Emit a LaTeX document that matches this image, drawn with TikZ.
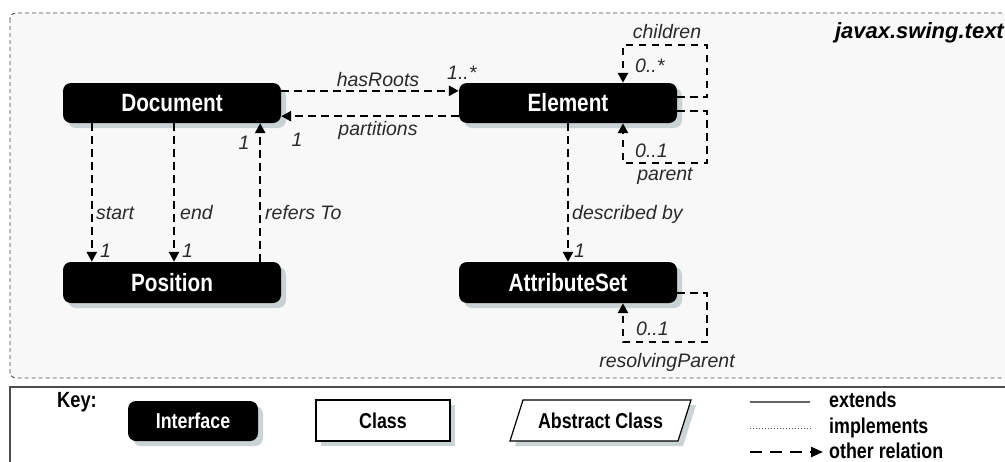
\documentclass[tikz,border=0pt]{standalone}
\usepackage{fontspec}
\setmainfont{Liberation Sans}
\newfontfamily\condfont[FakeStretch=0.83, BoldFont={Liberation Sans Bold}]{Liberation Sans}
\usetikzlibrary{arrows.meta,shadows}
\definecolor{bgbox}{HTML}{F8F8F8}
\definecolor{shad}{HTML}{B4C2C2}
\definecolor{labc}{HTML}{2A2A2A}
\tikzset{
 iface/.style={rounded corners=8pt, fill=black, text=white, font=\condfont\bfseries\fontsize{25}{25}\selectfont,
   minimum width=218pt, minimum height=40pt, inner sep=0pt,
   drop shadow={shadow xshift=5pt, shadow yshift=-5pt, fill=shad, opacity=0.7}},
 rel/.style={line width=2.5pt, dash pattern=on 7.5pt off 5.5pt, -{Triangle[length=10pt,width=10pt]}},
 lab/.style={font=\fontsize{19.5}{20}\selectfont\itshape, text=labc, inner sep=0pt},
 keyt/.style={font=\condfont\bfseries\fontsize{21.5}{22}\selectfont, inner sep=0pt},
}
\begin{document}
\begin{tikzpicture}[x=1pt,y=-1pt]
\useasboundingbox (0,0) rectangle (1005,461);
\clip (0,0) rectangle (1005,461);
\fill[white] (0,0) rectangle (1005,461);
% package frame
\draw[fill=bgbox, draw=black!70, line width=0.9pt, dash pattern=on 4pt off 3pt, rounded corners=6pt] (10,13) rectangle (1030,378);
\node[font=\fontsize{22}{22}\selectfont\bfseries\itshape, anchor=base east, inner sep=0pt] (pkg) at (1004,38) {javax.swing.text};
% nodes
\node[iface] (doc) at (172,103) {Document};
\node[iface] (elem) at (568,103) {Element};
\node[iface, minimum height=41pt] (pos) at (172,282.5) {Position};
\node[iface, minimum height=41pt] (attr) at (568,282.5) {AttributeSet};
% Document <-> Element
\draw[rel] ([yshift=-8pt]doc.north east) -- ([yshift=-8pt]elem.north west);
\draw[rel] ([yshift=7pt]elem.south west) -- ([yshift=7pt]doc.south east);
\node[lab, anchor=base] (lhas) at (378,86) {hasRoots};
\node[lab, anchor=base west] (lhasm) at (447,79) {1..*};
\node[lab, anchor=base] (lpart) at (378,135) {partitions};
\node[lab, anchor=base] (lpartm) at (297,146) {1};
% Document -> Position
\draw[rel] ([xshift=29pt]doc.south west) -- ([xshift=29pt]pos.north west);
\draw[rel] ([xshift=2pt]doc.south) -- ([xshift=2pt]pos.north);
\draw[rel] ([xshift=-21pt]pos.north east) -- ([xshift=-21pt]doc.south east);
\node[lab, anchor=base west] (lstart) at (96,219) {start};
\node[lab, anchor=base west] (lstartm) at (100,257) {1};
\node[lab, anchor=base west] (lend) at (180,219) {end};
\node[lab, anchor=base west] (lendm) at (182,257) {1};
\node[lab, anchor=base west] (lref) at (265,219) {refers To};
\node[lab, anchor=base] (lrefm) at (244,149) {1};
% Element -> AttributeSet
\draw[rel] (elem.south) -- (attr.north);
\node[lab, anchor=base west] (ldesc) at (572,219) {described by};
\node[lab, anchor=base west] (ldescm) at (574,257) {1};
% self loops
\draw[rel] ([yshift=6pt]elem.east) -- ++(30,0) -- ++(0,-52) -| ([xshift=55pt]elem.north);
\draw[rel] ([yshift=-8pt]elem.east) -- ++(30,0) -- ++(0,52) -| ([xshift=55pt]elem.south);
\draw[rel] ([yshift=-10.5pt]attr.east) -- ++(30,0) -- ++(0,49) -| ([xshift=55pt]attr.south);
\node[lab, anchor=base] (lchild) at (667,38) {children};
\node[lab, anchor=base west] (lchildm) at (635,72) {0..*};
\node[lab, anchor=base west] (lparm) at (635,157) {0..1};
\node[lab, anchor=base] (lpar) at (665,180) {parent};
\node[lab, anchor=base west] (lresm) at (636,335) {0..1};
\node[lab, anchor=base] (lres) at (667,367) {resolvingParent};
% key
\draw[fill=white, draw=black!70, line width=1.5pt] (10,387) rectangle (1030,490);
\node[font=\condfont\bfseries\fontsize{22}{22}\selectfont, anchor=base west, inner sep=0pt] (key) at (57,407) {Key:};
\node[iface, minimum width=130pt, minimum height=40pt, font=\condfont\bfseries\fontsize{21.5}{22}\selectfont] (kif) at (193,421) {Interface};
\node[draw=black, line width=1.2pt, fill=white, minimum width=134pt, minimum height=41pt, inner sep=0pt,
  font=\condfont\bfseries\fontsize{21.5}{22}\selectfont,
  drop shadow={shadow xshift=5pt, shadow yshift=-5pt, fill=shad, opacity=0.7}] (kcl) at (383,420.5) {Class};
\fill[shad, opacity=0.7] (528,405) -- (696,405) -- (683,446) -- (515,446) -- cycle;
\draw[fill=white, line width=1.2pt] (523,400) -- (691,400) -- (678,441) -- (510,441) -- cycle;
\node[keyt] (kabs) at (600.5,420.5) {Abstract Class};
\coordinate (e1) at (750,402); \coordinate (e2) at (810,402);
\coordinate (i1) at (750,428); \coordinate (i2) at (811,428);
\coordinate (o1) at (750,452); \coordinate (o2) at (823,452);
\draw[black!60, line width=1.5pt] (e1) -- (e2);
\draw[black!70, line width=0.8pt, dash pattern=on 1.2pt off 1.8pt] (i1) -- (i2);
\draw[line width=2.5pt, dash pattern=on 12pt off 8pt, -{Triangle[length=12pt,width=10pt]}] (o1) -- (o2);
\node[keyt, anchor=base west] (text1) at (829,407) {extends};
\node[keyt, anchor=base west] (text2) at (829,433) {implements};
\node[keyt, anchor=base west] (text3) at (829,458) {other relation};
\end{tikzpicture}
\end{document}
